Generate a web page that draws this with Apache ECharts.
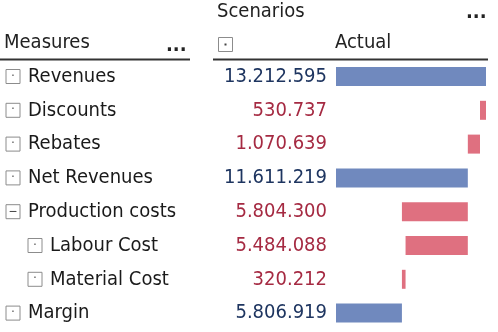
<!DOCTYPE html>
<html><head><meta charset="utf-8">
<script src="https://cdn.jsdelivr.net/npm/echarts@6/dist/echarts.min.js"></script>
<style>html,body{margin:0;padding:0;background:#fff}#c{width:498px;height:332px}</style>
</head><body><div id="c"></div>
<script>
const categories = ['Revenues','Discounts','Rebates','Net Revenues','Production costs','Labour Cost','Material Cost','Margin'];
const values = [13212595, 530737, 1070639, 11611219, 5804300, 5484088, 320212, 5806919];
const kinds = ['total','minus','minus','total','minus','minus','minus','total'];
const levels = [0,0,0,0,0,1,1,0];
const expanded = [false,false,false,false,true,false,false,false];

const FONT = '"DejaVu Sans Condensed","DejaVu Sans",sans-serif';
const FS = 20;

// waterfall positions
const starts = [], lengths = [];
let cur = 0;
for (let i = 0; i < values.length; i++) {
  const v = values[i];
  if (kinds[i] === 'total') { starts.push(0); lengths.push(v); cur = v; }
  else {
    const hasChildren = i + 1 < values.length && levels[i + 1] > levels[i];
    starts.push(cur - v); lengths.push(v);
    if (!hasChildren) cur = cur - v;
  }
}
function fmt(v){ return String(v).replace(/\B(?=(\d{3})+(?!\d))/g, '.'); }

const BLUE = '#7089be', RED = '#df7080';
const chart = echarts.init(document.getElementById('c'), null, {renderer:'canvas'});
const boxStyle = {width: 14, height: 14, lineHeight: 14, borderColor: '#8c8c8c', borderWidth: 1, align: 'center', verticalAlign: 'middle', fontSize: 12, color: '#444', fontFamily: FONT};
chart.setOption({
  animation: false,
  grid: {left: 336, right: 12, top: 59.6, bottom: 2},
  xAxis: {type: 'value', min: 0, max: values[0], show: false},
  yAxis: [
    {type: 'category', data: categories, inverse: true, axisLine: {show: false}, axisTick: {show: false},
     axisLabel: {margin: 9, fontFamily: FONT, fontSize: FS,
       formatter: (val, idx) => (kinds[idx] === 'total' ? '{b|' : '{r|') + fmt(values[idx]) + '}',
       rich: {b: {color: '#1e3560', fontFamily: FONT, fontSize: FS}, r: {color: '#a52a42', fontFamily: FONT, fontSize: FS}}}},
    {type: 'category', data: categories, inverse: true, position: 'left', axisLine: {show: false}, axisTick: {show: false},
     axisLabel: {margin: 330, align: 'left', fontFamily: FONT, fontSize: FS, color: '#1a1a1a',
       formatter: (val, idx) => (levels[idx] ? '{ind| }' : '') + (expanded[idx] ? '{bx|−}' : '{bx|·}') + '{sp| }' + '{t|' + val + '}',
       rich: {ind: {width: 22}, bx: boxStyle, sp: {width: 8}, t: {color: '#1a1a1a', fontFamily: FONT, fontSize: FS}}}}
  ],
  series: [
    {type: 'bar', stack: 'w', data: starts, itemStyle: {color: 'transparent'}, barWidth: 19, silent: true},
    {type: 'bar', stack: 'w', data: lengths.map((v, i) => ({value: v, itemStyle: {color: kinds[i] === 'total' ? BLUE : RED}})), barWidth: 19}
  ],
  graphic: [
    {type: 'text', left: 217, top: 2, style: {text: 'Scenarios', font: FS + 'px ' + FONT, fill: '#222'}},
    {type: 'text', left: 466, top: 3, style: {text: '...', font: 'bold ' + FS + 'px ' + FONT, fill: '#222'}},
    {type: 'text', left: 4, top: 33, style: {text: 'Measures', font: FS + 'px ' + FONT, fill: '#222'}},
    {type: 'text', left: 166, top: 36, style: {text: '...', font: 'bold ' + FS + 'px ' + FONT, fill: '#222'}},
    {type: 'rect', shape: {x: 218.5, y: 37.5, width: 14, height: 14}, style: {fill: '#fff', stroke: '#8c8c8c', lineWidth: 1}},
    {type: 'rect', shape: {x: 224.5, y: 43.5, width: 2, height: 2}, style: {fill: '#444'}},
    {type: 'text', left: 335, top: 33, style: {text: 'Actual', font: FS + 'px ' + FONT, fill: '#222'}},
    {type: 'line', shape: {x1: 0, y1: 59.5, x2: 190, y2: 59.5}, style: {stroke: '#333', lineWidth: 2}},
    {type: 'line', shape: {x1: 213, y1: 59.5, x2: 488, y2: 59.5}, style: {stroke: '#333', lineWidth: 2}}
  ]
});
</script></body></html>
